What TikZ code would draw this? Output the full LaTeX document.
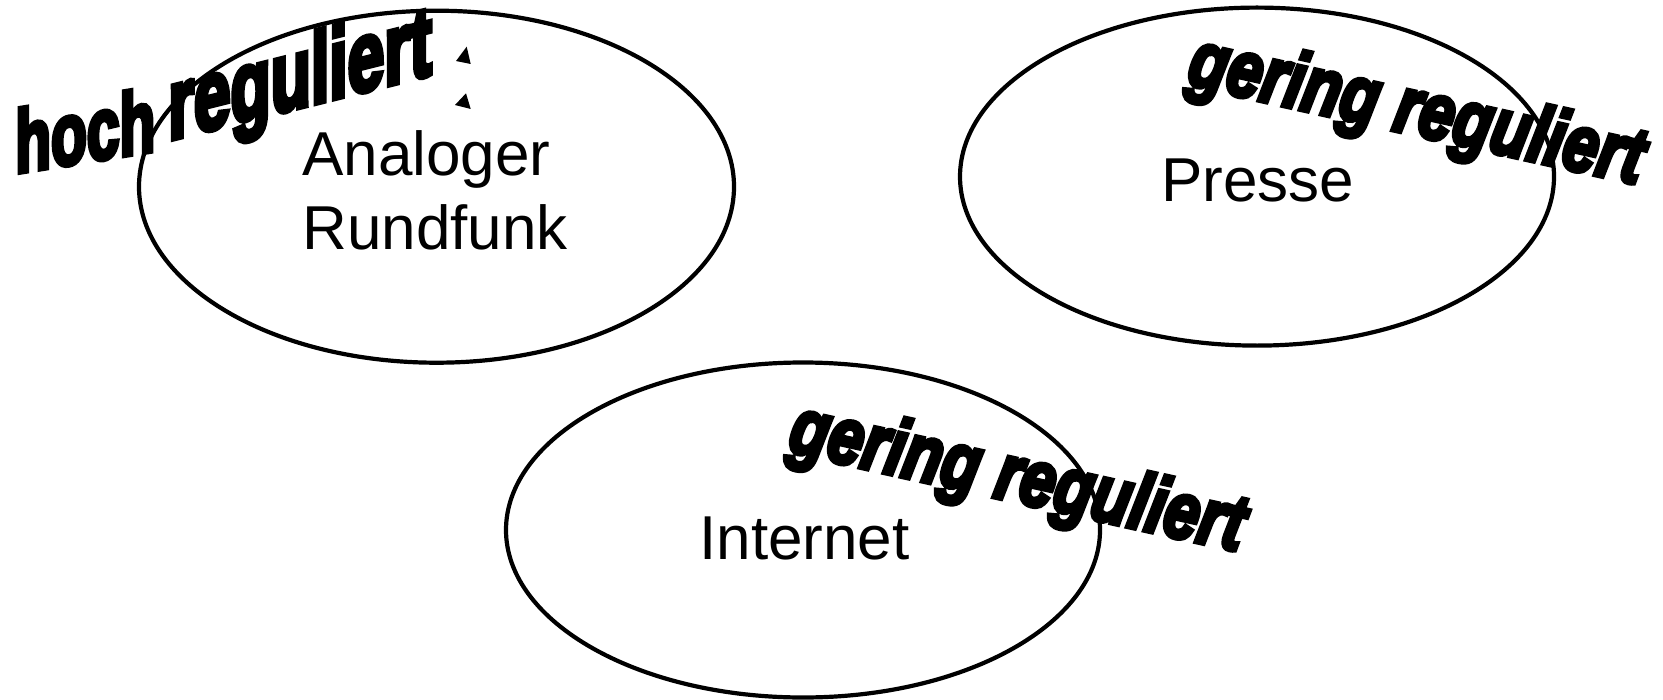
\documentclass[tikz,border=0pt]{standalone}
\usepackage{fontspec}
\setmainfont{Liberation Sans}
\newfontfamily\wordartfont[FakeBold=6]{Liberation Sans}
\usetikzlibrary{shapes.geometric}
\tikzset{
  field/.style={draw=black, line width=2.1pt, ellipse, inner sep=0pt},
  medium/.style={font=\fontsize{31}{37}\selectfont, inner sep=0pt},
  slantup/.style={inner sep=0pt, anchor=base west},
  archtext/.style={font=\wordartfont\bfseries\itshape\fontsize{40}{40}\selectfont,
    inner sep=0pt, anchor=base west, rotate=-12.5, xscale=0.79},
}
\begin{document}
\begin{tikzpicture}[x=0.5pt,y=-0.5pt]
\useasboundingbox (0,0) rectangle (1663,700);
% the three media fields
\node[field, minimum width=297.5pt, minimum height=176pt] (rundfunk) at (436.5,186.7) {};
\node[field, minimum width=297pt, minimum height=169pt] (presse) at (1257,176.6) {};
\node[field, minimum width=297pt, minimum height=167.5pt] (internet) at (803,530) {};
% field names
\node[medium, align=left, anchor=west] (t-rundfunk) at (302,190) {Analoger\\Rundfunk};
\node[medium, anchor=base] (t-presse) at (1257.5,201.5) {Presse};
\node[medium, anchor=base] (t-internet) at (804.5,559) {Internet};
% regulation labels
\node[slantup, yslant=0.16, xscale=0.666,
  font=\wordartfont\bfseries\fontsize{44}{44}\selectfont] (hoch) at (15,173) {hoch};
\node[slantup, yslant=0.25, xscale=0.74, yscale=1.12,
  font=\wordartfont\bfseries\fontsize{44.5}{44.5}\selectfont] (hoch-reg) at (168,140) {reguliert};
\fill (466.7,46.7) -- (456,61) -- (470.7,64) -- cycle;
\fill (466,93.3) -- (455,105) -- (470.7,109) -- cycle;
\node[archtext] (gering-internet) at (786,451) {gering reguliert};
\node[archtext] (gering-presse) at (1185,84) {gering reguliert};
\end{tikzpicture}
\end{document}
